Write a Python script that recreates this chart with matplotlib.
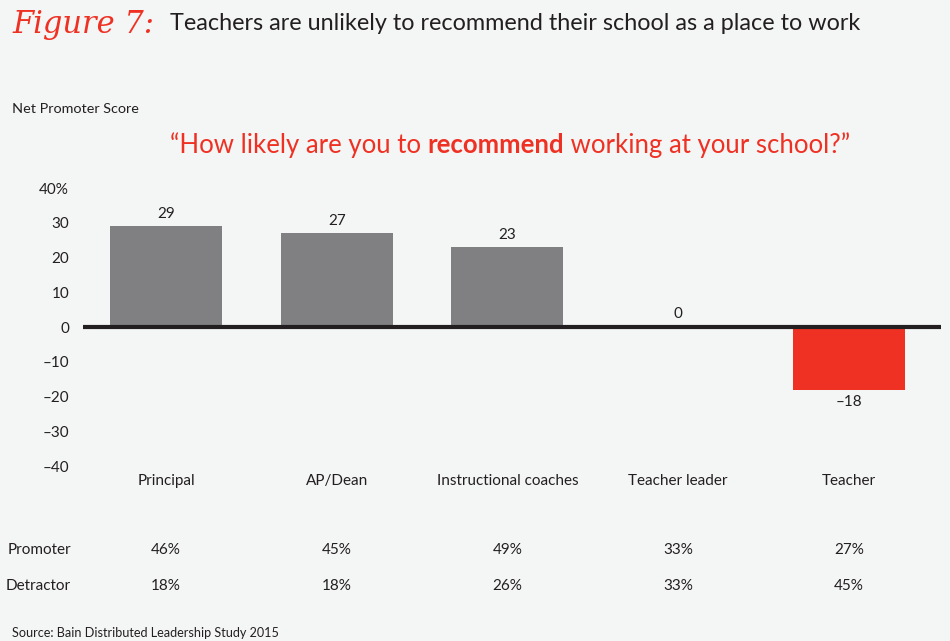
import matplotlib
matplotlib.use("Agg")
import numpy as np
from matplotlib import pyplot as plt

# data
roles = ["Principal", "AP/Dean", "Instructional coaches", "Teacher leader", "Teacher"]
nps = [29, 27, 23, 0, -18]
promoter = ["46%", "45%", "49%", "33%", "27%"]
detractor = ["18%", "18%", "26%", "33%", "45%"]
yticks = [-40, -30, -20, -10, 0, 10, 20, 30, 40]

bg = "#f4f6f5"
grey = "#808083"
red = "#ef3124"
ink = "#231f20"

plt.rcParams["font.family"] = ["Lato", "DejaVu Sans"]

fig = plt.figure(figsize=(9.5, 6.41), dpi=100, facecolor=bg)
ax = fig.add_axes([0.0874, 0.273, 0.9031, 0.4337], facecolor=bg)

x = np.arange(len(roles))
colors = [red if v < 0 else grey for v in nps]
ax.bar(x, nps, width=0.656, color=colors, zorder=2)
ax.axhline(0, color=ink, lw=3, zorder=3)

for xi, v in zip(x, nps):
    if v < 0:
        ax.annotate(str(v).replace("-", "\u2013"), (xi, v), xytext=(0, -4),
                    textcoords="offset points", ha="center", va="top",
                    fontsize=11, color=ink)
    else:
        ax.annotate(str(v), (xi, v), xytext=(0, 4), textcoords="offset points",
                    ha="center", va="bottom", fontsize=11, color=ink)

ax.set_xlim(-0.486, 4.54)
ax.set_ylim(-40, 40)
ax.set_yticks(yticks)
ax.set_yticklabels([("%d" % t).replace("-", "\u2013") + ("%" if t == 40 else "") for t in yticks],
                   fontsize=11, color=ink)
ax.tick_params(axis="y", length=0, pad=10)
ax.set_xticks([])
for s in ax.spines.values():
    s.set_visible(False)

# category labels and table rows under the plot
for xi, name, p, d in zip(x, roles, promoter, detractor):
    ax.annotate(name, (xi, 0), xycoords=("data", "figure fraction"),
                xytext=(xi, 1 - 481 / 641), textcoords=("data", "figure fraction"),
                ha="center", va="center", fontsize=11, color=ink)
    ax.annotate(p, (xi, 0), xycoords=("data", "figure fraction"),
                xytext=(xi, 1 - 550 / 641), textcoords=("data", "figure fraction"),
                ha="center", va="center", fontsize=11, color=ink)
    ax.annotate(d, (xi, 0), xycoords=("data", "figure fraction"),
                xytext=(xi, 1 - 586 / 641), textcoords=("data", "figure fraction"),
                ha="center", va="center", fontsize=11, color=ink)

fig.text(71 / 950, 1 - 550 / 641, "Promoter", ha="right", va="center", fontsize=11, color=ink)
fig.text(71 / 950, 1 - 586 / 641, "Detractor", ha="right", va="center", fontsize=11, color=ink)

fig.text(12 / 950, 1 - 633 / 641, "Source: Bain Distributed Leadership Study 2015",
         ha="left", va="center", fontsize=9.1, color=ink)
fig.text(12 / 950, 1 - 109 / 641, "Net Promoter Score", ha="left", va="center",
         fontsize=10.4, color=ink)

# title
fig.text(12 / 950, 1 - 24 / 641, "Figure 7:", ha="left", va="center",
         fontsize=22, color=red, style="italic", family=["DejaVu Serif"])
fig.text(170 / 950, 1 - 24 / 641, "Teachers are unlikely to recommend their school as a place to work",
         ha="left", va="center", fontsize=16.8, color=ink)

# quote line with a bold word, laid out piece by piece
fig.canvas.draw()
r = fig.canvas.get_renderer()
parts = [("\u201cHow likely are you to ", "normal"), ("recommend", "bold"),
         (" working at your school?\u201d", "normal")]
texts = [fig.text(0, 1 - 145 / 641, s, ha="left", va="center", fontsize=18.5,
                  color=red, weight=w) for s, w in parts]
widths = [t.get_window_extent(r).width for t in texts]
xpos = 510 - sum(widths) / 2
for t, w in zip(texts, widths):
    t.set_x(xpos / 950)
    xpos += w

fig.savefig("out.png", dpi=100, facecolor=bg)
